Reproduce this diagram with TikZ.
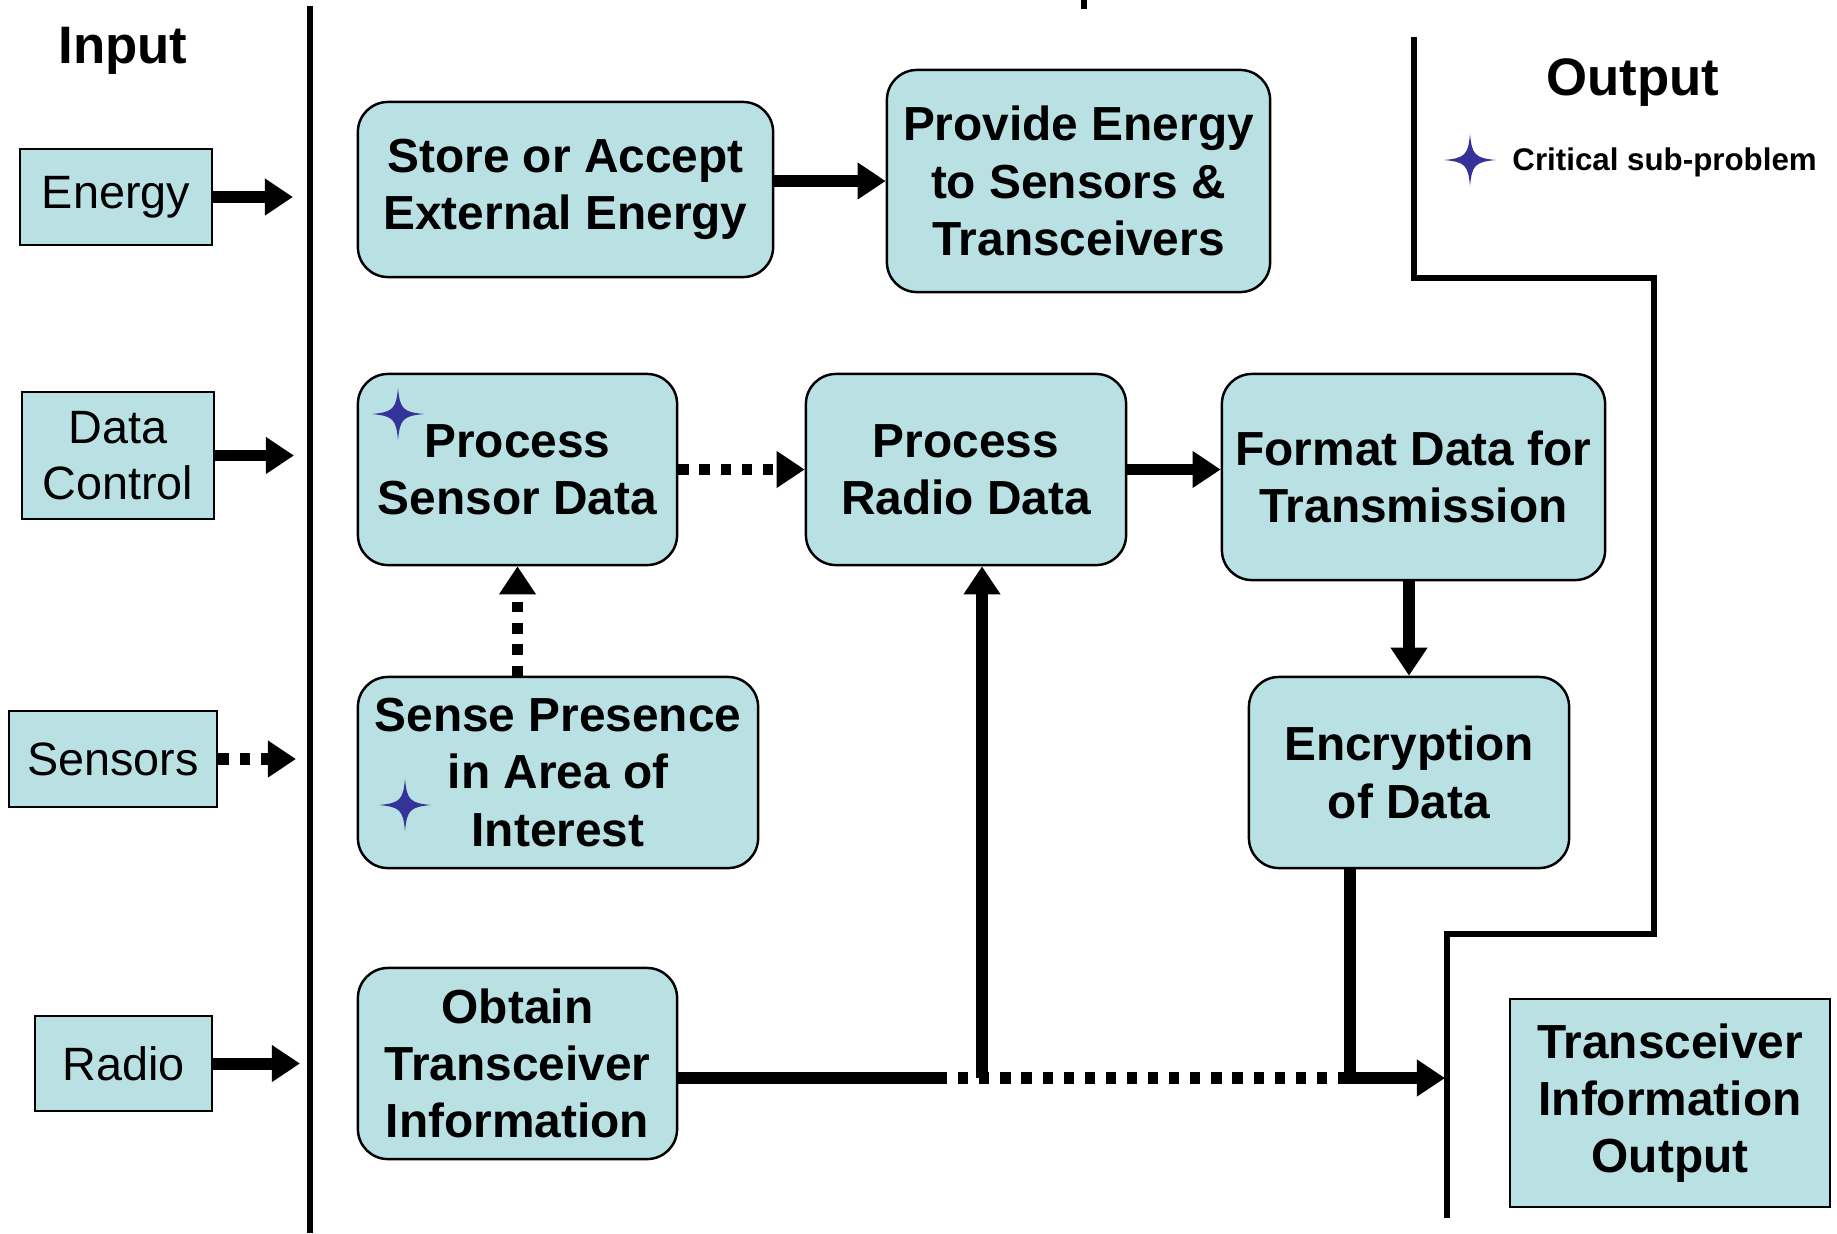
\documentclass[tikz,border=0pt]{standalone}
\usepackage{fontspec}
\setmainfont{Liberation Sans}
\usetikzlibrary{arrows.meta}
\definecolor{boxfill}{RGB}{185,224,227}
\definecolor{starblue}{RGB}{51,51,153}

% four pointed star marking a critical sub-problem
\newcommand{\critstar}[1]{\fill[starblue, shift={#1}] (26,0) .. controls (5,2) and (2,5) .. (0,26) .. controls (-2,5) and (-5,2) .. (-26,0) .. controls (-5,-2) and (-2,-5) .. (0,-26) .. controls (2,-5) and (5,-2) .. cycle;}

\tikzset{
  task/.style={draw, fill=boxfill, line width=0.7pt, rounded corners=0.3cm, align=center, inner sep=0pt,
    font=\fontsize{13.6}{16.3}\selectfont\bfseries},
  inbox/.style={draw, fill=boxfill, line width=0.8pt, align=center, inner sep=0pt,
    font=\fontsize{13.3}{16}\selectfont},
  title/.style={font=\fontsize{15}{18}\selectfont\bfseries},
  bar/.style={line width=1.6pt},
  flowline/.style={line width=3.4pt},
  flow/.style={flowline, -{Triangle[length=8pt,width=10pt]}},
  dotflow/.style={flow, dash pattern=on 2.9pt off 3.1pt},
}

\begin{document}
\begin{tikzpicture}[x=0.01cm, y=-0.01cm]
    \useasboundingbox (0,0) rectangle (1837,1233);

    % boundaries
    \coordinate (inTop) at (310,6);
    \coordinate (inBot) at (310,1233);
    \draw[bar] (inTop) -- (inBot);
    \draw[bar] (1084,0) -- (1084,9);
    \draw[bar] (1414,37) -- (1414,278) -- (1654,278) -- (1654,934) -- (1447,934) -- (1447,1218);

    \node[title] (input) at (123,51) {Input};
    \node[title] (output) at (1633,83) {Output};
    \critstar{(1470,160)}
    \node[anchor=west, font=\fontsize{8.9}{10}\selectfont\bfseries] (legend) at (1500,162) {Critical sub-problem};

    % inputs
    \node[inbox, minimum width=1.92cm, minimum height=0.96cm] (energy) at (116,197) {Energy};
    \node[inbox, minimum width=1.92cm, minimum height=1.27cm] (datactl) at (118,455.5) {Data\\Control};
    \node[inbox, minimum width=2.08cm, minimum height=0.96cm] (sensors) at (113,759) {Sensors};
    \node[inbox, minimum width=1.77cm, minimum height=0.95cm] (radio) at (123.5,1063.5) {Radio};

    \draw[flow, shorten >=0.17cm] (energy.east) -- (energy.east -| inTop);
    \draw[flow, shorten >=0.16cm] (datactl.east) -- (datactl.east -| inTop);
    \draw[dotflow, shorten >=0.14cm] (sensors.east) -- (sensors.east -| inTop);
    \draw[flow, shorten >=0.1cm] (radio.east) -- (radio.east -| inTop);

    % functions
    \node[task, minimum width=4.15cm, minimum height=1.75cm] (store) at (565.5,189.5) {Store or Accept\\External Energy};
    \node[task, minimum width=3.83cm, minimum height=2.22cm] (provide) at (1078.5,181) {Provide Energy\\to Sensors \&\\Transceivers};
    \node[task, minimum width=3.19cm, minimum height=1.91cm] (psens) at (517.5,469.5) {Process\\Sensor Data};
    \node[task, minimum width=3.20cm, minimum height=1.91cm] (pradio) at (966,469.5) {Process\\Radio Data};
    \node[task, minimum width=3.83cm, minimum height=2.06cm] (format) at (1413.5,477) {Format Data for\\Transmission};
    \node[task, minimum width=4.00cm, minimum height=1.91cm] (sense) at (558,772.5) {Sense Presence\\in Area of\\Interest};
    \node[task, minimum width=3.20cm, minimum height=1.91cm] (encrypt) at (1409,772.5) {Encryption\\of Data};
    \node[task, minimum width=3.19cm, minimum height=1.91cm] (obtain) at (517.5,1063.5) {Obtain\\Transceiver\\Information};
    \node[task, rounded corners=0pt, minimum width=3.20cm, minimum height=2.08cm] (txout) at (1670,1103) {Transceiver\\Information\\Output};

    \critstar{(398,414)}
    \critstar{(405,805)}

    \draw[flow] (store.east |- provide.west) -- (provide.west);
    \draw[dotflow] (psens.east) -- (pradio.west);
    \draw[flow] (pradio.east) -- (pradio.east -| format.west);
    \draw[flow] (encrypt.north |- format.south) -- (encrypt.north);
    \draw[dotflow] (psens.south |- sense.north) -- (psens.south);

    \coordinate (split) at (937,1078);
    \coordinate (radioUp) at (982,1078);
    \coordinate (encDown) at (1350,1078);
    \coordinate (outIn) at (1445,1078);

    \draw[flowline] (obtain.east |- split) -- (split);
    \draw[flowline, dash pattern=on 2.9pt off 3.1pt] (split) -- (encDown);
    \draw[flow] (radioUp) -- (radioUp |- pradio.south);
    \draw[flow] (encrypt.south -| encDown) -- (encDown) -- (outIn);

\end{tikzpicture}
\end{document}
